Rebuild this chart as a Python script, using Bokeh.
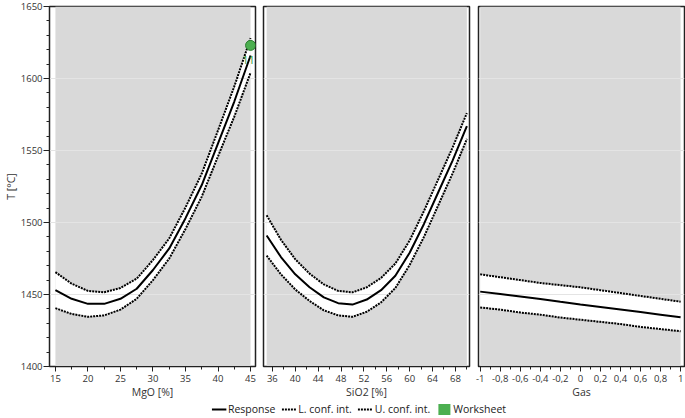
from bokeh.plotting import figure
from bokeh.layouts import row, column
from bokeh.models import FixedTicker, Legend, LegendItem, Range1d
from bokeh.core.properties import value
from bokeh.embed import file_html
from bokeh.resources import INLINE

# ---------------- data ----------------
y_ticks = [1400, 1450, 1500, 1550, 1600, 1650]
y_minor = [1410, 1420, 1430, 1440, 1460, 1470, 1480, 1490, 1510, 1520, 1530, 1540,
           1560, 1570, 1580, 1590, 1610, 1620, 1630, 1640]

mgo = [15, 17.5, 20, 22.5, 25, 27.5, 30, 32.5, 35, 37.5, 40, 42.5, 45]
mgo_resp = [1453, 1447, 1443.5, 1443.5, 1447, 1454, 1467, 1482, 1503, 1526, 1555, 1584, 1616]
mgo_upper = [1465.5, 1457.5, 1452.5, 1451.5, 1454.5, 1461, 1474, 1489, 1510.5, 1534, 1564, 1594.5, 1628]
mgo_lower = [1440.5, 1436.5, 1434.5, 1435.5, 1439.5, 1447, 1460, 1475, 1495.5, 1518, 1546, 1573.5, 1604]
mgo_ticks = [15, 20, 25, 30, 35, 40, 45]
mgo_minor = [17.5, 22.5, 27.5, 32.5, 37.5, 42.5]

sio2 = [35, 37.5, 40, 42.5, 45, 47.5, 50, 52.5, 55, 57.5, 60, 62.5, 65, 67.5, 70]
sio2_resp = [1491, 1476, 1464, 1455, 1448, 1444, 1443, 1446.5, 1453, 1463, 1479, 1499, 1521, 1543, 1567]
sio2_upper = [1505, 1488, 1474.5, 1464.5, 1457, 1452.5, 1451.5, 1455, 1461.5, 1471.5, 1487.5, 1508, 1530, 1552, 1576]
sio2_lower = [1477, 1464, 1453.5, 1445.5, 1439, 1435.5, 1434.5, 1438, 1444.5, 1454.5, 1470.5, 1490, 1512, 1534, 1558]
sio2_ticks = [36, 40, 44, 48, 52, 56, 60, 64, 68]
sio2_minor = [38, 42, 46, 50, 54, 58, 62, 66, 70]

gas = [-1, -0.8, -0.6, -0.4, -0.2, 0, 0.2, 0.4, 0.6, 0.8, 1]
gas_resp = [1452, 1450.3, 1448.6, 1446.9, 1444.9, 1443, 1441.3, 1439.6, 1437.8, 1436, 1434.2]
gas_upper = [1464, 1462, 1460, 1458, 1456.5, 1455, 1453, 1451, 1449, 1447, 1445]
gas_lower = [1441, 1439.5, 1437.5, 1436, 1434, 1432.5, 1431, 1429.5, 1427.5, 1426, 1424.5]
gas_ticks = [-1, -0.8, -0.6, -0.4, -0.2, 0, 0.2, 0.4, 0.6, 0.8, 1]
gas_tick_labels = ["-1", "-0,8", "-0,6", "-0,4", "-0,2", "0", "0,2", "0,4", "0,6", "0,8", "1"]
gas_minor = [-0.9, -0.7, -0.5, -0.3, -0.1, 0.1, 0.3, 0.5, 0.7, 0.9]

ws_mgo = [45]
ws_t = [1623]
ws_label = ["11"]

# ---------------- style ----------------
FONT = "Open Sans"
TICK_FS = "9.5px"
TITLE_FS = "10.5px"
GRAY = "#d9d9d9"
GRID = "#e4e4e4"
GREEN = "#4caf50"
TXT = "#333333"
FW, FH = 206, 360
DOT = "2 1"


def panel(x, resp, up, low, xr, ticks, minor, title, labels=None, first=False, bl=4, br=4):
    p = figure(frame_width=FW, frame_height=FH, x_range=Range1d(*xr),
               y_range=Range1d(y_ticks[0], y_ticks[-1]),
               output_backend="svg", toolbar_location=None,
               min_border_top=6, min_border_bottom=0,
               min_border_left=(40 if first else bl), min_border_right=br)
    p.quad(left=x[0], right=x[-1], bottom=y_ticks[0], top=y_ticks[-1],
           fill_color=GRAY, line_color=None, level="image")
    p.varea(x=x, y1=low, y2=up, fill_color="white", level="image")
    p.line(x, up, line_color="black", line_width=2, line_dash=DOT)
    p.line(x, low, line_color="black", line_width=2, line_dash=DOT)
    p.line(x, resp, line_color="black", line_width=2)

    p.xgrid.visible = False
    p.ygrid.ticker = FixedTicker(ticks=y_ticks)
    p.ygrid.grid_line_color = GRID
    p.ygrid.grid_line_width = 1

    p.outline_line_color = "#222222"
    p.outline_line_width = 1.5
    p.background_fill_color = "white"
    p.border_fill_color = "white"

    ax = p.xaxis[0]
    ax.ticker = FixedTicker(ticks=ticks, minor_ticks=minor)
    if labels:
        ax.major_label_overrides = {t: l for t, l in zip(ticks, labels)}
    ax.axis_label = title
    ax.axis_label_text_font = FONT
    ax.axis_label_text_font_size = TITLE_FS
    ax.axis_label_text_font_style = "normal"
    ax.axis_label_text_color = TXT
    ax.axis_label_standoff = 0
    ax.major_label_text_font = FONT
    ax.major_label_text_font_size = TICK_FS
    ax.major_label_text_color = TXT
    ax.major_label_standoff = 3
    ax.axis_line_color = "#222222"
    ax.major_tick_in = 0
    ax.major_tick_out = 5
    ax.minor_tick_in = 0
    ax.minor_tick_out = 3
    ax.major_tick_line_color = "#222222"
    ax.minor_tick_line_color = "#222222"

    ay = p.yaxis[0]
    if first:
        ay.ticker = FixedTicker(ticks=y_ticks, minor_ticks=y_minor)
        ay.axis_label = "T [°C]"
        ay.axis_label_text_font = FONT
        ay.axis_label_text_font_size = TITLE_FS
        ay.axis_label_text_font_style = "normal"
        ay.axis_label_text_color = TXT
        ay.axis_label_standoff = 0
        ay.major_label_text_font = FONT
        ay.major_label_text_font_size = TICK_FS
        ay.major_label_text_color = TXT
        ay.major_label_standoff = 1
        ay.axis_line_color = "#222222"
        ay.major_tick_in = 0
        ay.major_tick_out = 6
        ay.minor_tick_in = 0
        ay.minor_tick_out = 3
        ay.major_tick_line_color = "#222222"
        ay.minor_tick_line_color = "#222222"
    else:
        ay.visible = False
    return p


p1 = panel(mgo, mgo_resp, mgo_upper, mgo_lower, (14.09, 45.76), mgo_ticks, mgo_minor,
           "MgO [%]", first=True)
p1.scatter(ws_mgo, ws_t, size=10, fill_color=GREEN, line_color="#2e7d32", line_width=1)
p1.text(ws_mgo, ws_t, text=ws_label, text_color="#2e9b3a", text_font=value(FONT),
        text_font_size="11px", text_align="center", text_baseline="middle",
        x_offset=-2, y_offset=15)

p2 = panel(sio2, sio2_resp, sio2_upper, sio2_lower, (34.45, 70.46), sio2_ticks, sio2_minor,
           "SiO2 [%]")
p3 = panel(gas, gas_resp, gas_upper, gas_lower, (-1.017, 1.039), gas_ticks, gas_minor,
           "Gas", labels=gas_tick_labels, bl=5, br=2)

# ---------------- legend strip ----------------
total_w = 684
pl = figure(width=total_w, height=16, x_range=Range1d(gas[0], gas[-1]),
            y_range=Range1d(y_ticks[0], y_ticks[-1]), output_backend="svg",
            toolbar_location=None, min_border_left=33, min_border_right=0,
            min_border_top=0, min_border_bottom=0)
pl.axis.visible = False
pl.grid.visible = False
pl.outline_line_color = None
r_resp = pl.line(gas, gas_resp, line_color="black", line_width=2, visible=False)
r_low = pl.line(gas, gas_lower, line_color="black", line_width=2, line_dash=DOT, visible=False)
r_up = pl.line(gas, gas_upper, line_color="black", line_width=2, line_dash=DOT, visible=False)
r_ws = pl.vbar(x=ws_mgo, top=ws_t, width=1, fill_color=GREEN, line_color=None, visible=False)
legend = Legend(items=[LegendItem(label="Response", renderers=[r_resp]),
                       LegendItem(label="L. conf. int.", renderers=[r_low]),
                       LegendItem(label="U. conf. int.", renderers=[r_up]),
                       LegendItem(label="Worksheet", renderers=[r_ws])],
                orientation="horizontal", location="center",
                label_text_font=FONT, label_text_font_size="10.5px", label_text_color="#222222",
                glyph_width=15, glyph_height=14, label_standoff=2, spacing=6,
                padding=0, margin=0, border_line_color=None, background_fill_alpha=0)
pl.add_layout(legend, "center")

layout = column(row(p1, p2, p3, spacing=0), pl, spacing=0)

open("out.html", "w").write(file_html(layout, INLINE))
